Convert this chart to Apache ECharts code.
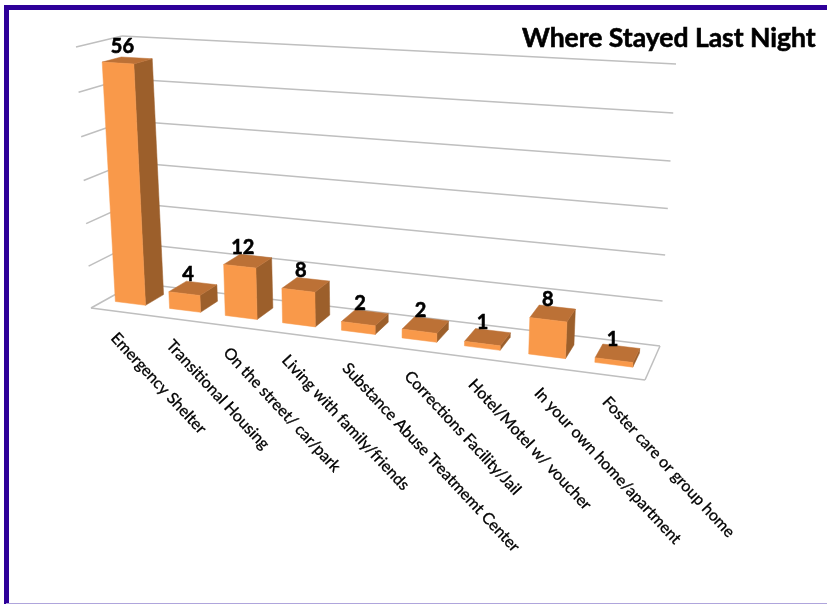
<!DOCTYPE html>
<html><head><meta charset="utf-8">
<style>html,body{margin:0;padding:0;background:#fff}#c{width:827px;height:604px}</style>
<script src="https://cdn.jsdelivr.net/npm/echarts@6/dist/echarts.min.js"></script>
</head><body><div id="c"></div>
<script>
const categories = ["Emergency Shelter","Transitional Housing","On the street/ car/park","Living with family/friends","Substance Abuse Treatmemt Center","Corrections Facility/Jail","Hotel/Motel w/ voucher","In your own home/apartment","Foster care or group home"];
const values = [56,4,12,8,2,2,1,8,1];
const yTicks = [0,10,20,30,40,50,60];
const titleText = "Where Stayed Last Night";

// Corners of the 3D plot box on screen: [u,v,z]
const C = {
 '000':[91,308],'100':[645,380],'001':[136,283],'101':[660,346],
 '010':[76,47],'110':[662,82],'011':[122,36],'111':[676,64]
};
const W = {a:-0.123,b:-0.045,c:0.06};
function weight(u,v,z){return 1+W.a*u+W.b*v+W.c*z;}
function warp(u,v,z){
  let X=0,Y=0,S=0;
  for(const i of [0,1])for(const j of [0,1])for(const k of [0,1]){
    const b=(i?u:1-u)*(j?v:1-v)*(k?z:1-z);
    const w=weight(i,j,k)*b;
    const p=C[''+i+j+k];
    X+=w*p[0];Y+=w*p[1];S+=w;
  }
  return [X/S,Y/S];
}
const FRONT='#F9994A',SIDE='#9C5F2B',TOP='#BC7136',GRID='#BFBFBF';
const Z0=0.30,Z1=0.72,BAR=0.56,SHIFT=-0.003;
function norm(api,params,x,val){
  const p=api.coord([x,val]),r=params.coordSys;
  return [(p[0]-r.x)/r.width,(r.y+r.height-p[1])/r.height];
}
function poly(points,fill){return {type:'polygon',shape:{points},style:{fill,stroke:fill,lineWidth:0.5}};}
function line(a,b){return {type:'line',shape:{x1:a[0],y1:a[1],x2:b[0],y2:b[1]},style:{stroke:GRID,lineWidth:1.5}};}

function renderWall(params,api){
  const v=norm(api,params,0,api.value(1))[1];
  const fl=warp(0,v,0),bl=warp(0,v,1),br=warp(1,v,1);
  const children=[line(fl,bl),line(bl,br)];
  if(api.value(1)===0){children.push(line(warp(0,0,0),warp(1,0,0)),line(warp(1,0,0),warp(1,0,1)));}
  return {type:'group',children};
}
function renderBar(params,api){
  const i=api.value(0),n=norm(api,params,i,api.value(1));
  const uc=n[0]+SHIFT,v=n[1],hw=BAR*api.size([1,0])[0]/params.coordSys.width/2;
  const u0=uc-hw,u1=uc+hw;
  const t=warp(uc,v,(Z0+Z1)/2);
  const b=warp(uc,0,0);
  return {type:'group',children:[
    poly([warp(u1,0,Z0),warp(u1,0,Z1),warp(u1,v,Z1),warp(u1,v,Z0)],SIDE),
    poly([warp(u0,v,Z0),warp(u1,v,Z0),warp(u1,v,Z1),warp(u0,v,Z1)],TOP),
    poly([warp(u0,0,Z0),warp(u1,0,Z0),warp(u1,v,Z0),warp(u0,v,Z0)],FRONT),
    {type:'text',x:t[0]-5,y:t[1]-14,style:{text:String(api.value(1)),font:'bold 20px Lato',fill:'#000',stroke:'#000',lineWidth:0.6,align:'center',verticalAlign:'middle'}},
    {type:'text',x:b[0]-3,y:b[1]+24,rotation:-47*Math.PI/180,style:{text:categories[i],font:'16px Lato',fill:'#000',stroke:'#000',lineWidth:0.3,align:'left',verticalAlign:'middle'}}
  ]};
}
const chart=echarts.init(document.getElementById('c'),null,{renderer:'canvas'});
chart.setOption({
  animation:false,
  backgroundColor:'#fff',
  title:{text:titleText,left:517,top:20,textStyle:{fontFamily:'Lato',fontWeight:'bold',fontSize:26.5,color:'#000',textBorderColor:'#000',textBorderWidth:0.6}},
  grid:{left:100,top:100,width:500,height:300},
  xAxis:{type:'category',data:categories,show:false},
  yAxis:{type:'value',min:0,max:60,interval:10,show:false},
  graphic:[
    {type:'rect',shape:{x:4,y:5,width:823,height:5},style:{fill:'#2E0099'}},
    {type:'rect',shape:{x:4,y:5,width:5,height:599},style:{fill:'#2E0099'}},
    {type:'rect',shape:{x:6,y:603,width:821,height:1},style:{fill:'#AFA5DC'}}
  ],
  series:[
    {type:'custom',coordinateSystem:'cartesian2d',silent:true,z:1,renderItem:renderWall,data:yTicks.map(t=>[0,t]),encode:{x:0,y:1}},
    {type:'custom',coordinateSystem:'cartesian2d',silent:true,z:2,renderItem:renderBar,data:values.map((v,i)=>[i,v]),encode:{x:0,y:1}}
  ]
});
</script></body></html>
